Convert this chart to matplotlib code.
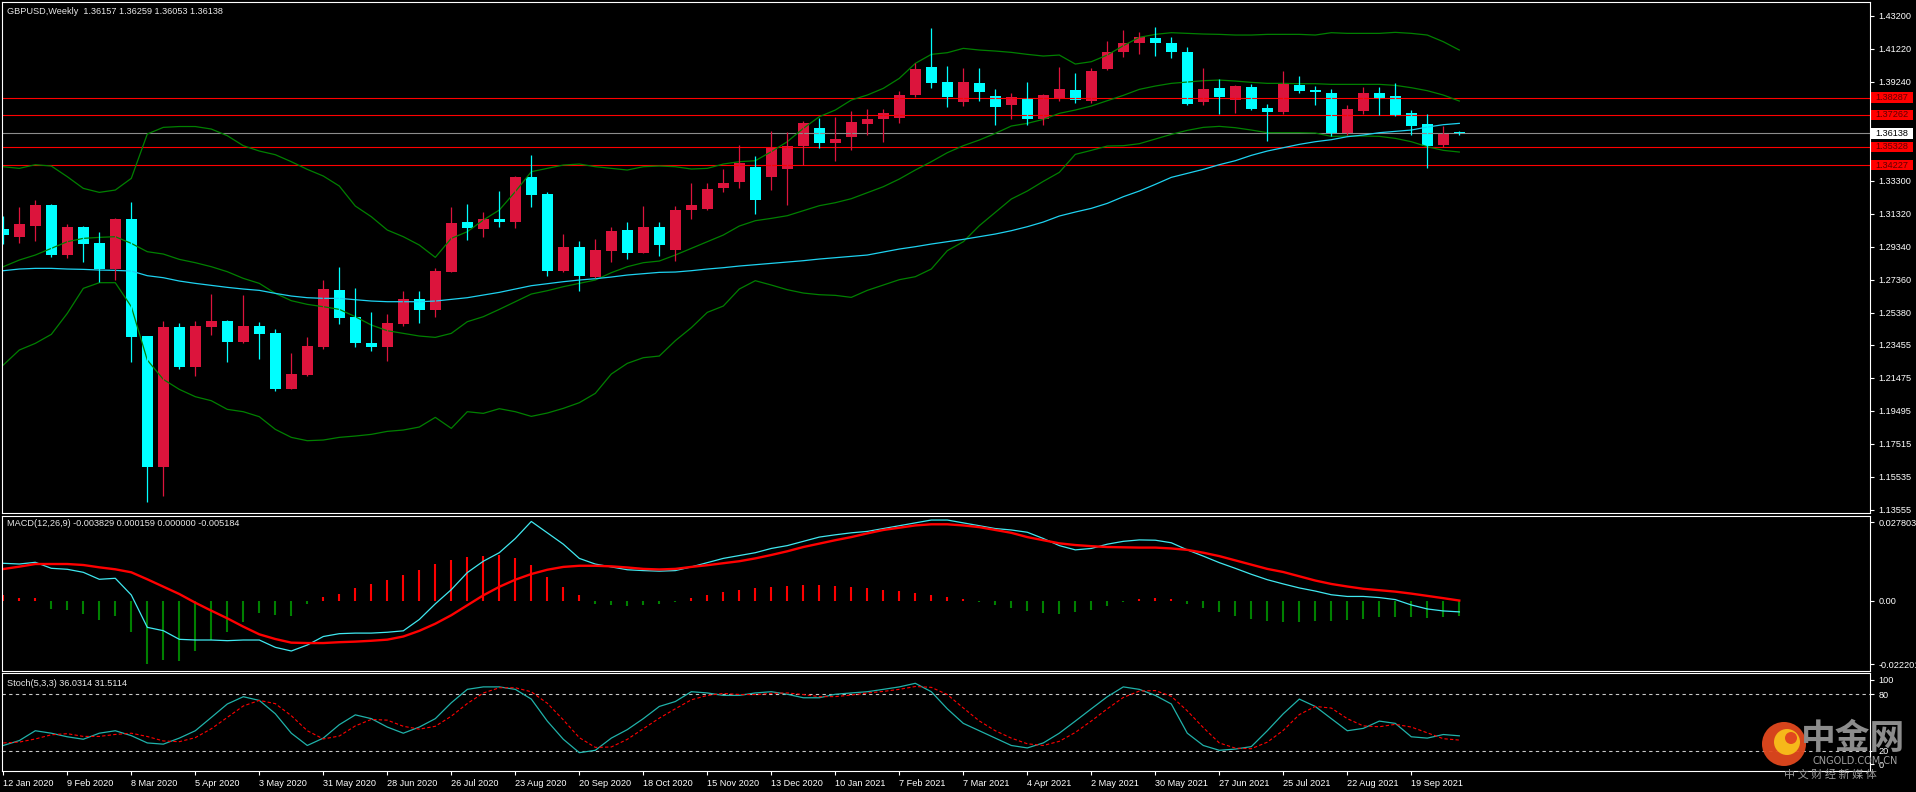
import numpy as np
import matplotlib
matplotlib.use("Agg")
import matplotlib.pyplot as plt
from matplotlib.patches import Rectangle, Ellipse
from matplotlib.transforms import blended_transform_factory

plt.rcParams['font.family'] = ['Liberation Sans', 'DejaVu Sans']

W, H = 1916, 792

# ---- weekly candles, 12 Jan 2020 .. 10 Oct 2021 ----
opens = [1.3040, 1.2994, 1.3060, 1.3184, 1.2884, 1.3052, 1.2956, 1.2802, 1.3100, 1.2398,
         1.1614, 1.2452, 1.2214, 1.2454, 1.2488, 1.2364, 1.2458, 1.2416, 1.2082, 1.2166,
         1.2334, 1.2674, 1.2512, 1.2356, 1.2334, 1.2472, 1.2620, 1.2556, 1.2784, 1.3082,
         1.3042, 1.3100, 1.3084, 1.3352, 1.3250, 1.2790, 1.2932, 1.2754, 1.2910, 1.3034,
         1.2898, 1.3052, 1.2916, 1.3156, 1.3160, 1.3288, 1.3324, 1.3412, 1.3352, 1.3400,
         1.3540, 1.3646, 1.3558, 1.3594, 1.3672, 1.3702, 1.3708, 1.3844, 1.4012, 1.3922,
         1.3804, 1.3916, 1.3838, 1.3786, 1.3820, 1.3702, 1.3822, 1.3874, 1.3810, 1.4000,
         1.4102, 1.4156, 1.4186, 1.4156, 1.4102, 1.3802, 1.3886, 1.3814, 1.3892, 1.3766,
         1.3742, 1.3904, 1.3874, 1.3856, 1.3614, 1.3748, 1.3856, 1.3838, 1.3736, 1.3670,
         1.3544, 1.36157]
highs = [1.3120, 1.3172, 1.3214, 1.3190, 1.3070, 1.3056, 1.3022, 1.3106, 1.3202, 1.2400,
         1.2488, 1.2476, 1.2488, 1.2650, 1.2494, 1.2644, 1.2482, 1.2440, 1.2296, 1.2392,
         1.2734, 1.2812, 1.2686, 1.2542, 1.2530, 1.2668, 1.2668, 1.2806, 1.3172, 1.3190,
         1.3142, 1.3268, 1.3358, 1.3484, 1.3262, 1.3010, 1.2968, 1.2980, 1.3052, 1.3082,
         1.3178, 1.3082, 1.3178, 1.3316, 1.3316, 1.3400, 1.3544, 1.3478, 1.3628, 1.3622,
         1.3688, 1.3706, 1.3712, 1.3748, 1.3760, 1.3760, 1.3868, 1.4036, 1.4246, 1.4018,
         1.4006, 1.4006, 1.3880, 1.3856, 1.3922, 1.3848, 1.4012, 1.3976, 1.4006, 1.4168,
         1.4234, 1.4222, 1.4252, 1.4192, 1.4132, 1.4006, 1.3940, 1.3904, 1.3910, 1.3790,
         1.3988, 1.3958, 1.3898, 1.3880, 1.3784, 1.3892, 1.3892, 1.3916, 1.3754, 1.3730,
         1.3658, 1.36259]
lows = [1.2952, 1.2958, 1.2970, 1.2874, 1.2868, 1.2844, 1.2722, 1.2736, 1.2244, 1.1404,
        1.1440, 1.2202, 1.2160, 1.2406, 1.2244, 1.2358, 1.2262, 1.2070, 1.2078, 1.2160,
        1.2322, 1.2472, 1.2334, 1.2310, 1.2250, 1.2460, 1.2478, 1.2514, 1.2784, 1.2976,
        1.2990, 1.3054, 1.3048, 1.3174, 1.2760, 1.2784, 1.2670, 1.2748, 1.2844, 1.2862,
        1.2894, 1.2880, 1.2850, 1.3102, 1.3156, 1.3264, 1.3288, 1.3132, 1.3274, 1.3186,
        1.3424, 1.3528, 1.3448, 1.3516, 1.3606, 1.3564, 1.3678, 1.3832, 1.3888, 1.3774,
        1.3780, 1.3810, 1.3666, 1.3702, 1.3666, 1.3666, 1.3810, 1.3798, 1.3798, 1.3994,
        1.4072, 1.4090, 1.4078, 1.4066, 1.3786, 1.3784, 1.3730, 1.3736, 1.3754, 1.3568,
        1.3730, 1.3856, 1.3784, 1.3598, 1.3604, 1.3730, 1.3724, 1.3720, 1.3604, 1.3406,
        1.3532, 1.36053]
closes = [1.3006, 1.3070, 1.3184, 1.2884, 1.3052, 1.2952, 1.2802, 1.3100, 1.2394, 1.1614,
          1.2452, 1.2214, 1.2458, 1.2488, 1.2364, 1.2458, 1.2412, 1.2082, 1.2170, 1.2338,
          1.2680, 1.2508, 1.2354, 1.2334, 1.2476, 1.2620, 1.2556, 1.2788, 1.3076, 1.3048,
          1.3100, 1.3084, 1.3352, 1.3246, 1.2790, 1.2932, 1.2760, 1.2914, 1.3028, 1.2898,
          1.3052, 1.2946, 1.3154, 1.3184, 1.3280, 1.3316, 1.3436, 1.3214, 1.3530, 1.3538,
          1.3676, 1.3558, 1.3580, 1.3682, 1.3700, 1.3736, 1.3844, 1.4000, 1.3918, 1.3832,
          1.3922, 1.3864, 1.3774, 1.3830, 1.3702, 1.3844, 1.3880, 1.3816, 1.3988, 1.4102,
          1.4156, 1.4192, 1.4156, 1.4102, 1.3790, 1.3880, 1.3832, 1.3898, 1.3760, 1.3742,
          1.3910, 1.3868, 1.3864, 1.3614, 1.3760, 1.3856, 1.3826, 1.3724, 1.3658, 1.3538,
          1.3614, 1.36138]

# Bollinger bands (green) and moving average (cyan)
bb_upper = [1.3414, 1.3404, 1.3426, 1.3418, 1.3354, 1.3284, 1.3260, 1.3274, 1.3344, 1.3610,
            1.3650, 1.3655, 1.3655, 1.3640, 1.3600, 1.3540, 1.3508, 1.3486, 1.3444, 1.3398,
            1.3358, 1.3298, 1.3178, 1.3114, 1.3034, 1.2994, 1.2944, 1.2870, 1.2984, 1.3024,
            1.3094, 1.3154, 1.3264, 1.3384, 1.3404, 1.3424, 1.3430, 1.3414, 1.3404, 1.3394,
            1.3414, 1.3418, 1.3414, 1.3400, 1.3404, 1.3430, 1.3444, 1.3450, 1.3504, 1.3564,
            1.3644, 1.3714, 1.3754, 1.3814, 1.3844, 1.3884, 1.3944, 1.4034, 1.4088, 1.4098,
            1.4124, 1.4114, 1.4108, 1.4100, 1.4088, 1.4078, 1.4084, 1.4030, 1.4044, 1.4084,
            1.4140, 1.4190, 1.4208, 1.4218, 1.4214, 1.4210, 1.4208, 1.4204, 1.4204, 1.4208,
            1.4208, 1.4208, 1.4204, 1.4218, 1.4214, 1.4214, 1.4214, 1.4220, 1.4214, 1.4204,
            1.4164, 1.4114]
bb_mid = [1.2814, 1.2854, 1.2884, 1.2924, 1.2964, 1.2984, 1.2990, 1.2994, 1.2954, 1.2904,
          1.2890, 1.2858, 1.2838, 1.2814, 1.2784, 1.2744, 1.2714, 1.2654, 1.2610, 1.2588,
          1.2574, 1.2558, 1.2514, 1.2464, 1.2430, 1.2414, 1.2398, 1.2390, 1.2414, 1.2484,
          1.2514, 1.2558, 1.2604, 1.2650, 1.2670, 1.2694, 1.2714, 1.2734, 1.2778, 1.2814,
          1.2838, 1.2848, 1.2884, 1.2924, 1.2964, 1.3004, 1.3058, 1.3090, 1.3104, 1.3120,
          1.3150, 1.3180, 1.3198, 1.3222, 1.3258, 1.3294, 1.3340, 1.3394, 1.3444, 1.3498,
          1.3540, 1.3574, 1.3614, 1.3658, 1.3674, 1.3698, 1.3734, 1.3754, 1.3778, 1.3810,
          1.3842, 1.3878, 1.3898, 1.3914, 1.3922, 1.3930, 1.3934, 1.3928, 1.3920, 1.3914,
          1.3914, 1.3912, 1.3912, 1.3908, 1.3908, 1.3908, 1.3908, 1.3902, 1.3888, 1.3870,
          1.3844, 1.3808]
bb_lower = [1.2224, 1.2314, 1.2354, 1.2408, 1.2534, 1.2684, 1.2718, 1.2718, 1.2574, 1.2254,
            1.2138, 1.2078, 1.2034, 1.2010, 1.1958, 1.1944, 1.1914, 1.1838, 1.1790, 1.1770,
            1.1774, 1.1790, 1.1798, 1.1808, 1.1826, 1.1834, 1.1852, 1.1910, 1.1844, 1.1944,
            1.1934, 1.1962, 1.1944, 1.1916, 1.1936, 1.1964, 1.1998, 1.2054, 1.2170, 1.2234,
            1.2268, 1.2278, 1.2370, 1.2448, 1.2540, 1.2578, 1.2680, 1.2730, 1.2704, 1.2676,
            1.2656, 1.2646, 1.2642, 1.2630, 1.2672, 1.2704, 1.2736, 1.2754, 1.2800, 1.2910,
            1.2964, 1.3060, 1.3140, 1.3220, 1.3268, 1.3326, 1.3380, 1.3488, 1.3512, 1.3538,
            1.3540, 1.3552, 1.3580, 1.3608, 1.3632, 1.3650, 1.3656, 1.3648, 1.3634, 1.3618,
            1.3618, 1.3618, 1.3616, 1.3596, 1.3598, 1.3598, 1.3596, 1.3584, 1.3564, 1.3534,
            1.3512, 1.3502]
ma_line = [1.2790, 1.2800, 1.2804, 1.2804, 1.2800, 1.2798, 1.2794, 1.2792, 1.2788, 1.2760,
           1.2748, 1.2728, 1.2714, 1.2702, 1.2690, 1.2680, 1.2672, 1.2654, 1.2638, 1.2628,
           1.2624, 1.2624, 1.2616, 1.2608, 1.2604, 1.2604, 1.2604, 1.2608, 1.2618, 1.2628,
           1.2644, 1.2660, 1.2680, 1.2700, 1.2712, 1.2724, 1.2734, 1.2742, 1.2752, 1.2764,
           1.2772, 1.2780, 1.2782, 1.2790, 1.2800, 1.2808, 1.2818, 1.2826, 1.2834, 1.2842,
           1.2850, 1.2860, 1.2868, 1.2876, 1.2884, 1.2902, 1.2920, 1.2934, 1.2950, 1.2964,
           1.2978, 1.2994, 1.3010, 1.3030, 1.3054, 1.3082, 1.3118, 1.3142, 1.3164, 1.3194,
           1.3234, 1.3268, 1.3308, 1.3350, 1.3374, 1.3398, 1.3426, 1.3450, 1.3482, 1.3508,
           1.3528, 1.3548, 1.3564, 1.3576, 1.3594, 1.3604, 1.3618, 1.3626, 1.3634, 1.3652,
           1.3666, 1.3674]

levels = [1.38287, 1.37262, 1.35328, 1.34227]
last_price = 1.36138

price_ticks = [1.43200, 1.41220, 1.39240, 1.33300, 1.31320, 1.29340, 1.27360,
               1.25380, 1.23455, 1.21475, 1.19495, 1.17515, 1.15535, 1.13555]

# MACD(12,26,9), values in thousandths
macd_main = [13.27, 13.02, 13.62, 11.51, 11.16, 10.10, 7.64, 7.99, 2.11, -9.27,
             -10.45, -13.49, -13.73, -13.73, -13.96, -13.73, -13.73, -16.31, -17.60, -15.5,
             -12.5, -11.5, -11.3, -11.3, -11.0, -10.5, -6.5, -1.0, 4.0, 10.0,
             14.0, 17.0, 22.0, 28.0, 24.0, 20.0, 15.0, 13.0, 12.0, 11.0,
             10.7, 10.5, 10.7, 12.0, 13.5, 15.0, 16.0, 17.0, 18.5, 19.5,
             21.0, 22.5, 23.3, 24.0, 24.5, 25.5, 26.5, 27.5, 28.5, 28.5,
             27.5, 26.5, 25.5, 25.0, 24.2, 22.0, 19.5, 18.0, 18.5, 20.0,
             21.0, 21.5, 21.4, 20.5, 18.0, 15.8, 13.5, 11.5, 9.4, 7.5,
             6.0, 4.6, 3.5, 2.2, 1.6, 1.6, 1.2, 0.5, -1.4, -2.8,
             -3.5, -3.829]
macd_signal = [11.26, 12.09, 13.02, 13.02, 13.02, 12.67, 11.85, 11.16, 10.10, 7.64,
               5.05, 2.46, -0.60, -3.40, -6.10, -9.03, -11.73, -13.38, -14.66, -14.8,
               -14.8, -14.5, -14.3, -14.0, -13.6, -12.5, -10.5, -8.0, -5.0, -1.5,
               2.0, 5.0, 7.5, 9.5, 11.0, 12.0, 12.4, 12.4, 12.2, 11.8,
               11.3, 11.1, 11.3, 12.0, 12.6, 13.3, 14.0, 15.0, 16.2, 17.5,
               19.0, 20.2, 21.4, 22.5, 23.8, 25.0, 25.8, 26.6, 27.0, 27.0,
               26.6, 26.0, 25.0, 24.0, 22.5, 21.4, 20.3, 19.7, 19.3, 19.0,
               18.9, 18.8, 18.8, 18.5, 18.0, 17.0, 15.8, 14.3, 12.8, 11.3,
               10.2, 8.7, 7.2, 6.0, 5.1, 4.3, 3.8, 3.3, 2.6, 1.8,
               1.0, 0.159]
macd_hist = [2.1, 1.0, 1.0, -2.8, -3.2, -4.6, -6.7, -5.3, -10.8, -22.2,
             -20.8, -21.0, -17.6, -13.7, -10.8, -7.3, -4.1, -4.9, -5.3, -0.9,
             1.5, 2.5, 4.5, 6.0, 7.5, 9.0, 11.0, 13.0, 14.5, 15.5,
             16.0, 16.2, 15.0, 12.5, 8.5, 5.0, 2.0, -1.0, -1.5, -1.8,
             -1.5, -1.0, -0.5, 1.0, 2.0, 3.0, 4.0, 4.6, 5.0, 5.3,
             5.5, 5.5, 5.3, 5.0, 4.5, 4.0, 3.4, 2.8, 2.2, 1.5,
             0.8, -0.5, -1.5, -2.5, -3.5, -4.3, -4.5, -4.0, -3.0, -1.8,
             -0.5, 0.8, 1.0, 0.6, -1.0, -2.5, -4.0, -5.2, -6.2, -7.0,
             -7.5, -7.5, -7.2, -7.0, -6.6, -6.2, -5.8, -5.6, -5.8, -6.0,
             -5.7, -5.184]

# Stochastic(5,3,3)
stoch_k = [25.8, 31.0, 41.4, 38.8, 35.0, 32.4, 38.8, 41.4, 36.2, 28.5,
           27.2, 33.6, 41.4, 55.5, 69.7, 77.4, 73.5, 59.4, 38.8, 25.8,
           33.6, 47.8, 58.2, 54.2, 45.3, 38.8, 45.3, 54.2, 71.0, 85.2,
           87.8, 87.8, 85.2, 74.9, 51.6, 32.4, 18.2, 20.7, 33.6, 42.6,
           54.2, 67.1, 72.3, 82.7, 81.4, 78.8, 78.8, 81.4, 82.7, 80.0,
           76.3, 76.3, 80.0, 81.4, 82.7, 85.2, 87.8, 91.6, 82.7, 64.6,
           49.2, 41.4, 33.6, 25.8, 23.2, 28.5, 38.8, 51.6, 64.6, 77.4,
           87.8, 85.2, 78.8, 69.7, 38.8, 25.8, 20.7, 22.0, 24.6, 41.4,
           59.4, 74.9, 67.1, 54.2, 41.4, 43.9, 51.6, 49.2, 35.0, 33.6,
           37.4, 36.0314]
stoch_d = [28.5, 29.4, 32.7, 37.1, 38.3, 35.4, 35.4, 37.5, 38.8, 35.3,
           30.6, 29.8, 34.1, 43.5, 55.5, 67.6, 73.5, 70.1, 57.3, 41.4,
           32.7, 35.8, 46.5, 53.4, 52.6, 46.1, 43.1, 46.1, 56.8, 70.2,
           81.3, 86.9, 86.9, 82.6, 70.5, 52.9, 34.1, 23.8, 24.2, 32.3,
           43.5, 54.7, 64.6, 74.1, 78.8, 80.9, 79.7, 79.7, 80.9, 81.4,
           79.7, 77.5, 77.5, 79.2, 81.4, 83.0, 85.2, 88.2, 87.3, 79.7,
           65.5, 51.8, 41.4, 33.6, 27.6, 25.8, 30.2, 39.6, 51.7, 64.6,
           76.6, 83.4, 83.9, 77.9, 62.4, 44.7, 28.5, 23.0, 22.4, 29.3,
           41.8, 58.5, 67.1, 65.4, 54.2, 46.5, 45.6, 48.2, 45.3, 39.2,
           33.0, 31.5114]

date_labels = ["12 Jan 2020", "9 Feb 2020", "8 Mar 2020", "5 Apr 2020", "3 May 2020",
               "31 May 2020", "28 Jun 2020", "26 Jul 2020", "23 Aug 2020", "20 Sep 2020",
               "18 Oct 2020", "15 Nov 2020", "13 Dec 2020", "10 Jan 2021", "7 Feb 2021",
               "7 Mar 2021", "4 Apr 2021", "2 May 2021", "30 May 2021", "27 Jun 2021",
               "25 Jul 2021", "22 Aug 2021", "19 Sep 2021"]

BULL = '#DC143C'
BEAR = '#00FFFF'
FS = 6.6

fig = plt.figure(figsize=(W / 100, H / 100), dpi=100, facecolor='black')


def panel(x0, y0, x1, y1):
    a = fig.add_axes([x0 / W, 1 - y1 / H, (x1 - x0) / W, (y1 - y0) / H])
    a.set_facecolor('black')
    for s in a.spines.values():
        s.set_color('white')
        s.set_linewidth(0.8)
    a.yaxis.tick_right()
    a.tick_params(axis='y', colors='white', labelsize=FS, length=3, width=0.8, pad=3)
    a.tick_params(axis='x', bottom=False, labelbottom=False)
    a.set_xlim((2 - 3.3) / 16, (1870 - 3.3) / 16)
    return a


ax = panel(2, 2, 1870, 513)
ax_macd = panel(2, 516, 1870, 671)
ax_st = panel(2, 673, 1870, 771)

n = len(closes)
x = np.arange(n)
o = np.array(opens)
c = np.array(closes)
cols = [BULL if cc > oo else BEAR for oo, cc in zip(o, c)]

# ---- main price panel ----
ax.set_ylim(1.13362, 1.44022)
for lv in levels:
    ax.axhline(lv, color='#FF0000', lw=0.8)
ax.axhline(last_price, color='#8C8C8C', lw=0.8)

ax.plot(x, bb_upper, color='#008000', lw=0.9)
ax.plot(x, bb_mid, color='#008000', lw=0.9)
ax.plot(x, bb_lower, color='#008000', lw=0.9)
ax.plot(x, ma_line, color='#1ED2F0', lw=0.9)

ax.vlines(x, lows, highs, colors=cols, lw=0.9)
body_lo = np.minimum(o, c)
body_h = np.maximum(np.abs(c - o), 0.0006)
ax.bar(x, body_h, bottom=body_lo, width=11 / 16, color=cols, linewidth=0)

ax.set_yticks(price_ticks)
ax.set_yticklabels(['%.5f' % v for v in price_ticks])
for lab in ax.get_yticklabels():
    lab.set_horizontalalignment('left')

tr = blended_transform_factory(fig.transFigure, ax.transData)
for lv in levels:
    ax.add_patch(Rectangle((1871 / W, lv - 0.0031), 42 / W, 0.0062, transform=tr,
                           facecolor='#FF0000', edgecolor='none', clip_on=False))
    ax.text(1892 / W, lv, '%.5f' % lv, transform=tr, color='#600000', fontsize=FS,
            ha='center', va='center', clip_on=False)
ax.add_patch(Rectangle((1871 / W, last_price - 0.0031), 42 / W, 0.0062, transform=tr,
                       facecolor='white', edgecolor='none', clip_on=False))
ax.text(1892 / W, last_price, '%.5f' % last_price, transform=tr, color='black',
        fontsize=FS, ha='center', va='center', clip_on=False)

fig.text(7 / W, 1 - 11 / H, 'GBPUSD,Weekly  1.36157 1.36259 1.36053 1.36138',
         color='#E8E8E8', fontsize=FS, va='center')

# ---- MACD panel ----
mm = np.array(macd_main) * 1e-3
ms = np.array(macd_signal) * 1e-3
mh = np.array(macd_hist) * 1e-3
ax_macd.set_ylim(-0.02464, 0.02992)
ax_macd.vlines(x, 0, mh, colors=['#FF0000' if v > 0 else '#008000' for v in mh], lw=1.5)
ax_macd.plot(x, mm, color='#40E8F0', lw=0.9)
ax_macd.plot(x, ms, color='#FF0000', lw=1.7)
ax_macd.set_yticks([0.027803, 0.0, -0.022201])
ax_macd.set_yticklabels(['0.027803', '0.00', '-0.022201'])
for lab in ax_macd.get_yticklabels():
    lab.set_horizontalalignment('left')
fig.text(7 / W, 1 - 523 / H, 'MACD(12,26,9) -0.003829 0.000159 0.000000 -0.005184',
         color='#E8E8E8', fontsize=FS, va='center')

# ---- Stochastic panel (0..100 fills the window, MT4 keeps 100/0 labels inside) ----
ax_st.set_ylim(-1.2, 102.5)
for lv in (80, 20):
    ax_st.axhline(lv, color='#C8C8C8', lw=0.8, linestyle=(0, (3, 3)))
ax_st.plot(x, stoch_k, color='#20B2AA', lw=0.9)
ax_st.plot(x, stoch_d, color='#FF0000', lw=0.8, linestyle=(0, (3, 2)))
ax_st.set_yticks([95.1, 80, 20, 6.2])
ax_st.set_yticklabels(['100', '80', '20', '0'])
for lab in ax_st.get_yticklabels():
    lab.set_horizontalalignment('left')
fig.text(7 / W, 1 - 683 / H, 'Stoch(5,3,3) 36.0314 31.5114',
         color='#E8E8E8', fontsize=FS, va='center')

ax_st.tick_params(axis='x', bottom=True, labelbottom=True, colors='white',
                  labelsize=FS, length=3, width=0.8, pad=3)
ax_st.set_xticks(np.arange(0, 4 * len(date_labels), 4))
ax_st.set_xticklabels(date_labels)
for lab in ax_st.get_xticklabels():
    lab.set_horizontalalignment('left')

# ---- watermark ----
fig.add_artist(Ellipse((1784 / W, 1 - 744 / H), 44 / W, 44 / H, transform=fig.transFigure,
                       facecolor='#E2481E', edgecolor='none', alpha=0.95))
fig.add_artist(Ellipse((1787 / W, 1 - 742 / H), 26 / W, 26 / H, transform=fig.transFigure,
                       facecolor='#F6B81A', edgecolor='none'))
fig.add_artist(Ellipse((1791 / W, 1 - 738 / H), 12 / W, 12 / H, transform=fig.transFigure,
                       facecolor='#E2481E', edgecolor='none'))
fig.text(1853 / W, 1 - 738 / H, '中金网', fontsize=25, color='#8C8C8C', ha='center',
         va='center', fontweight='bold', family=['Noto Sans CJK SC', 'DejaVu Sans'])
fig.text(1855 / W, 1 - 761 / H, 'CNGOLD.COM.CN', fontsize=7, color='#A0A0A0',
         ha='center', va='center', family='DejaVu Sans')
fig.text(1830 / W, 1 - 774 / H, '中 文 财 经 新 媒 体', fontsize=8, color='#9A9A9A',
         ha='center', va='center', family=['Noto Sans CJK SC', 'DejaVu Sans'])

fig.savefig('out.png', dpi=100, facecolor='black')
